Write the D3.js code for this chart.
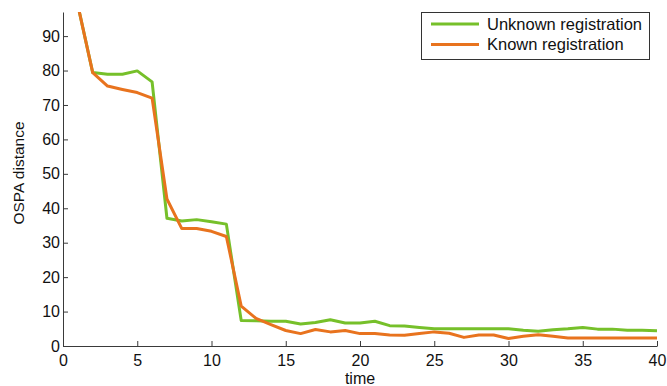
<!DOCTYPE html>
<html>
<head>
<meta charset="utf-8">
<script src="https://cdn.jsdelivr.net/npm/d3@7"></script>
<style>
  html, body { margin: 0; padding: 0; background: #fff; }
  svg { display: block; font-family: "Liberation Sans", Arial, sans-serif; }
</style>
</head>
<body>
<svg id="chart" width="667" height="386"></svg>
<script>
// Time steps and OSPA distance per filter
const time = d3.range(1, 41);
const unknownRegistration = [
  99, 79.4, 78.9, 78.9, 79.9, 76.7, 37.1, 36.3, 36.7, 36.1,
  35.4, 7.4, 7.3, 7.2, 7.2, 6.4, 6.8, 7.6, 6.7, 6.7,
  7.2, 5.9, 5.8, 5.4, 5.0, 5.0, 5.0, 5.0, 5.0, 5.0,
  4.6, 4.3, 4.7, 5.0, 5.4, 4.9, 4.9, 4.6, 4.6, 4.4
];
const knownRegistration = [
  99, 79.4, 75.5, 74.5, 73.6, 72.0, 42.7, 34.1, 34.1, 33.3,
  31.8, 11.6, 8.0, 6.2, 4.5, 3.6, 4.8, 4.1, 4.5, 3.6,
  3.6, 3.2, 3.1, 3.6, 4.1, 3.7, 2.5, 3.2, 3.2, 2.2,
  2.8, 3.3, 2.8, 2.3, 2.3, 2.3, 2.3, 2.3, 2.3, 2.3
];
const seriesNames = ["Unknown registration", "Known registration"];
const seriesColors = ["#76c02a", "#e8731e"];
const xTicks = [0, 5, 10, 15, 20, 25, 30, 35, 40];
const yTicks = [0, 10, 20, 30, 40, 50, 60, 70, 80, 90];

const svg = d3.select("#chart");
const plotLeft = 63, plotRight = 657, plotTop = 12, plotBottom = 346;

const x = d3.scaleLinear().domain([0, 40]).range([plotLeft, plotRight]);
const y = d3.scaleLinear().domain([0, 97]).range([plotBottom, plotTop]);

svg.append("defs").append("clipPath").attr("id", "plotClip")
  .append("rect").attr("x", plotLeft).attr("y", plotTop)
  .attr("width", plotRight - plotLeft).attr("height", plotBottom - plotTop);

const axisColor = "#3a3a3a";
const textColor = "#111";

// x axis with inward ticks
const gx = svg.append("g").attr("transform", `translate(0,${plotBottom})`)
  .call(d3.axisBottom(x).tickValues(xTicks).tickFormat(d3.format("d"))
    .tickSizeInner(-5).tickSizeOuter(0).tickPadding(9));
gx.select(".domain").attr("stroke", axisColor);
gx.selectAll(".tick line").attr("stroke", axisColor);
gx.selectAll(".tick text").attr("fill", textColor).attr("font-size", 16)
  .attr("font-family", "Liberation Sans, Arial, sans-serif");

// y axis with inward ticks
const gy = svg.append("g").attr("transform", `translate(${plotLeft},0)`)
  .call(d3.axisLeft(y).tickValues(yTicks).tickFormat(d3.format("d"))
    .tickSizeInner(-5).tickSizeOuter(0).tickPadding(3));
gy.select(".domain").attr("stroke", axisColor);
gy.selectAll(".tick line").attr("stroke", axisColor);
gy.selectAll(".tick text").attr("fill", textColor).attr("font-size", 16)
  .attr("font-family", "Liberation Sans, Arial, sans-serif");

// axis titles
svg.append("text").attr("x", (plotLeft + plotRight) / 2).attr("y", 384)
  .attr("text-anchor", "middle").attr("font-size", 16).attr("fill", textColor)
  .text("time");
svg.append("text")
  .attr("transform", "translate(24,173) rotate(-90)")
  .attr("text-anchor", "middle").attr("font-size", 15.5).attr("fill", textColor)
  .text("OSPA distance");

// series lines
const line = d3.line().x((d, i) => x(time[i])).y(d => y(d));
const plot = svg.append("g").attr("clip-path", "url(#plotClip)");
[unknownRegistration, knownRegistration].forEach((vals, k) => {
  plot.append("path").datum(vals)
    .attr("fill", "none").attr("stroke", seriesColors[k])
    .attr("stroke-width", 3).attr("stroke-linejoin", "round")
    .attr("d", line);
});

// legend
const lg = svg.append("g");
lg.append("rect").attr("x", 421.5).attr("y", 12.5).attr("width", 228).attr("height", 47)
  .attr("fill", "#fff").attr("stroke", "#333").attr("stroke-width", 1);
seriesNames.forEach((name, k) => {
  const ly = 24 + k * 20.5;
  lg.append("line").attr("x1", 431).attr("x2", 479).attr("y1", ly).attr("y2", ly)
    .attr("stroke", seriesColors[k]).attr("stroke-width", 3);
  lg.append("text").attr("x", 487).attr("y", ly).attr("dy", "0.35em")
    .attr("font-size", 16.5).attr("fill", textColor).text(name);
});
</script>
</body>
</html>
